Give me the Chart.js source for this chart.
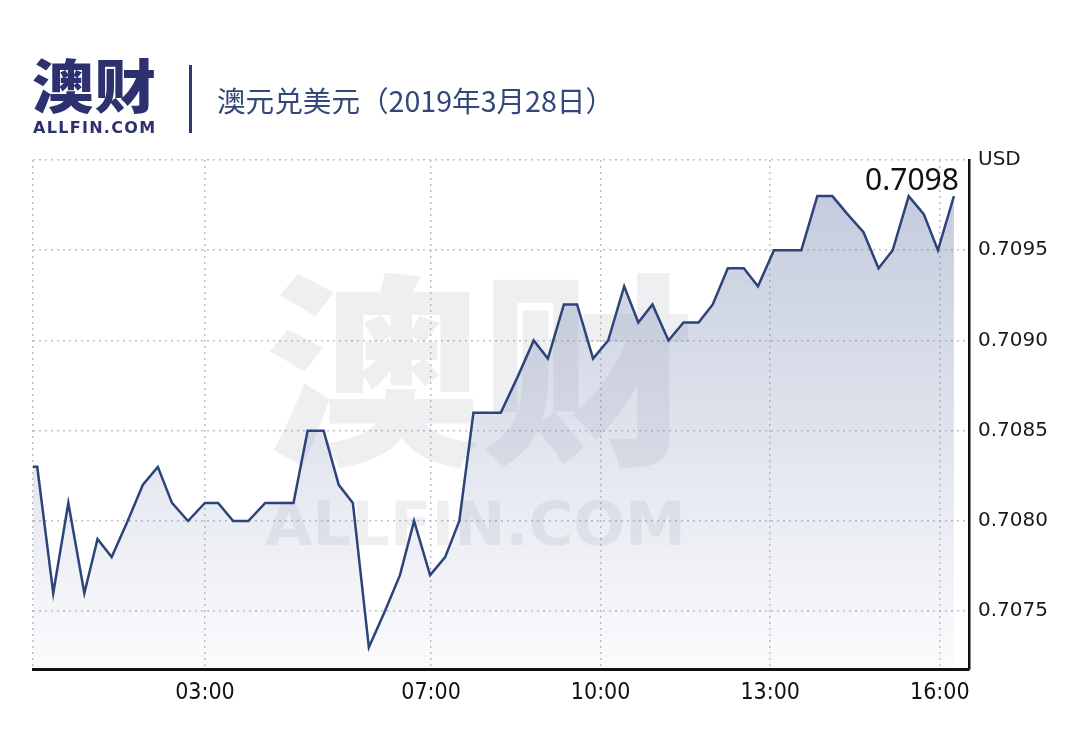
<!DOCTYPE html>
<html>
<head>
<meta charset="utf-8">
<script src="https://cdn.jsdelivr.net/npm/chart.js@4.4.0/dist/chart.umd.min.js"></script>
<style>
  html, body { margin: 0; padding: 0; background: #fff; }
  body { width: 1080px; height: 743px; position: relative; overflow: hidden; }
  #chart { position: absolute; left: 0; top: 0; }
  .logo { position: absolute; left: 32px; top: 54px; font: 900 58px/58px "Noto Sans CJK SC"; color: #2e3170; letter-spacing: 1px; transform: scaleX(1.06); transform-origin: left top; }
  .site { position: absolute; left: 33px; top: 118px; font: bold 16px/20px "DejaVu Sans"; color: #2e3170; letter-spacing: 1.3px; }
  .bar { position: absolute; left: 189px; top: 65px; width: 3px; height: 68px; background: #2e3a6e; }
  .title { position: absolute; left: 217px; top: 80px; font: 28.6px/40px "Noto Sans CJK SC"; color: #34477a; }
</style>
</head>
<body>
<canvas id="chart" width="1080" height="743"></canvas>
<div class="logo">澳财</div>
<div class="site">ALLFIN.COM</div>
<div class="bar"></div>
<div class="title">澳元兑美元（2019年3月28日）</div>

<script>
// AUD/USD, 28 March 2019
const times = [
  "00:00", "00:02", "00:19", "00:35", "00:52", "01:06", "01:21", "01:38", "01:54", "02:10",
  "02:25", "02:42", "03:00", "03:14", "03:30", "03:46", "04:04", "04:20", "04:34", "04:49",
  "05:06", "05:22", "05:37", "05:54", "06:11", "06:27", "06:42", "06:59", "07:15", "07:30",
  "07:45", "08:00", "08:14", "08:32", "08:49", "09:04", "09:21", "09:35", "09:52", "10:08",
  "10:25", "10:40", "10:55", "11:12", "11:28", "11:44", "11:59", "12:15", "12:32", "12:47",
  "13:04", "13:19", "13:33", "13:50", "14:06", "14:22", "14:39", "14:55", "15:10", "15:27",
  "15:43", "15:58", "16:15"
];
const rates = [
  0.7083, 0.7083, 0.7076, 0.7081, 0.7076, 0.7079, 0.7078, 0.7080, 0.7082, 0.7083,
  0.7081, 0.7080, 0.7081, 0.7081, 0.7080, 0.7080, 0.7081, 0.7081, 0.7081, 0.7085,
  0.7085, 0.7082, 0.7081, 0.7073, 0.7075, 0.7077, 0.7080, 0.7077, 0.7078, 0.7080,
  0.7086, 0.7086, 0.7086, 0.7088, 0.7090, 0.7089, 0.7092, 0.7092, 0.7089, 0.7090,
  0.7093, 0.7091, 0.7092, 0.7090, 0.7091, 0.7091, 0.7092, 0.7094, 0.7094, 0.7093,
  0.7095, 0.7095, 0.7095, 0.7098, 0.7098, 0.7097, 0.7096, 0.7094, 0.7095, 0.7098,
  0.7097, 0.7095, 0.7098
];
const xTickLabels = ["03:00", "07:00", "10:00", "13:00", "16:00"];
const yTickValues = [0.7075, 0.7080, 0.7085, 0.7090, 0.7095, 0.7100];
const yUnit = "USD";

const X_MIN = -2.5, X_MAX = 991;
const Y_MIN = 0.70718, Y_MAX = 0.7100;

function toMin(s) {
  const p = s.split(":");
  return Number(p[0]) * 60 + Number(p[1]);
}

const points = times.map((t, i) => ({ x: toMin(t), y: rates[i] }));
// the line runs in from the left edge at the opening rate
points.unshift({ x: X_MIN, y: rates[0] });

// big faded logo behind the line
const watermark = {
  id: "watermark",
  beforeDatasetsDraw(chart) {
    const c = chart.ctx;
    c.save();
    c.fillStyle = "rgba(110,110,135,0.11)";
    c.textAlign = "left";
    c.textBaseline = "middle";
    c.font = '900 205px "Noto Sans CJK SC"';
    c.save();
    c.translate(265, 370);
    c.scale(1.05, 1);
    c.fillText("澳财", 0, 0);
    c.restore();
    c.textBaseline = "alphabetic";
    c.font = 'bold 61px "DejaVu Sans"';
    c.fillText("ALLFIN.COM", 265, 545);
    c.restore();
  }
};

// last value written above the end of the line
const lastLabel = {
  id: "lastLabel",
  afterDatasetsDraw(chart) {
    const meta = chart.getDatasetMeta(0);
    const pt = meta.data[meta.data.length - 1];
    const c = chart.ctx;
    c.save();
    c.fillStyle = "#111";
    c.font = '30px "Noto Sans"';
    c.textAlign = "right";
    c.textBaseline = "alphabetic";
    c.fillText(rates[rates.length - 1].toFixed(4), pt.x + 5, pt.y - 6);
    c.restore();
  }
};

const ctx = document.getElementById("chart");

const chart = new Chart(ctx, {
  type: "line",
  data: {
    datasets: [
      {
        data: points,
        borderColor: "#2c4479",
        borderWidth: 2.5,
        pointRadius: 0,
        tension: 0,
        fill: "start",
        backgroundColor: (context) => {
          const area = context.chart.chartArea;
          if (!area) return "rgba(125,140,180,0.2)";
          const g = context.chart.ctx.createLinearGradient(0, area.top, 0, area.bottom);
          g.addColorStop(0, "rgba(125,140,180,0.48)");
          g.addColorStop(1, "rgba(125,140,180,0.03)");
          return g;
        },
      },
    ],
  },
  options: {
    responsive: false,
    animation: false,
    devicePixelRatio: 1,
    layout: { padding: { top: 160, left: 33, right: 0, bottom: 0 } },
    plugins: {
      legend: { display: false },
      tooltip: { enabled: false },
    },
    scales: {
      x: {
        type: "linear",
        min: X_MIN,
        max: X_MAX,
        afterBuildTicks: (scale) => {
          scale.ticks = [{ value: X_MIN }].concat(xTickLabels.map((l) => ({ value: toMin(l) })));
        },
        afterFit: (scale) => { scale.height = 74; },
        ticks: {
          autoSkip: false,
          maxRotation: 0,
          padding: 10,
          color: "#111",
          font: { family: '"Liberation Sans Narrow", "DejaVu Sans Condensed", sans-serif', size: 23 },
          callback: (v) => {
            const l = xTickLabels.find((s) => toMin(s) === v);
            return l || "";
          },
        },
        grid: { color: "rgba(175,175,185,0.8)", lineWidth: 1.5, drawTicks: false },
        border: { color: "#111", width: 3, dash: [2, 4] },
      },
      y: {
        position: "right",
        min: Y_MIN,
        max: Y_MAX,
        afterBuildTicks: (scale) => {
          scale.ticks = yTickValues.map((v) => ({ value: v }));
        },
        afterFit: (scale) => { scale.width = 111; },
        ticks: {
          padding: 9,
          color: "#1a1a1a",
          font: { family: '"DejaVu Sans"', size: 20 },
          callback: (v) => (Math.abs(v - Y_MAX) < 1e-7 ? yUnit : v.toFixed(4)),
        },
        grid: { color: "rgba(175,175,185,0.8)", lineWidth: 1.5, drawTicks: false },
        border: { color: "#111", width: 2.5, dash: [2, 4] },
      },
    },
  },
  plugins: [watermark, lastLabel],
});
</script>
</body>
</html>
